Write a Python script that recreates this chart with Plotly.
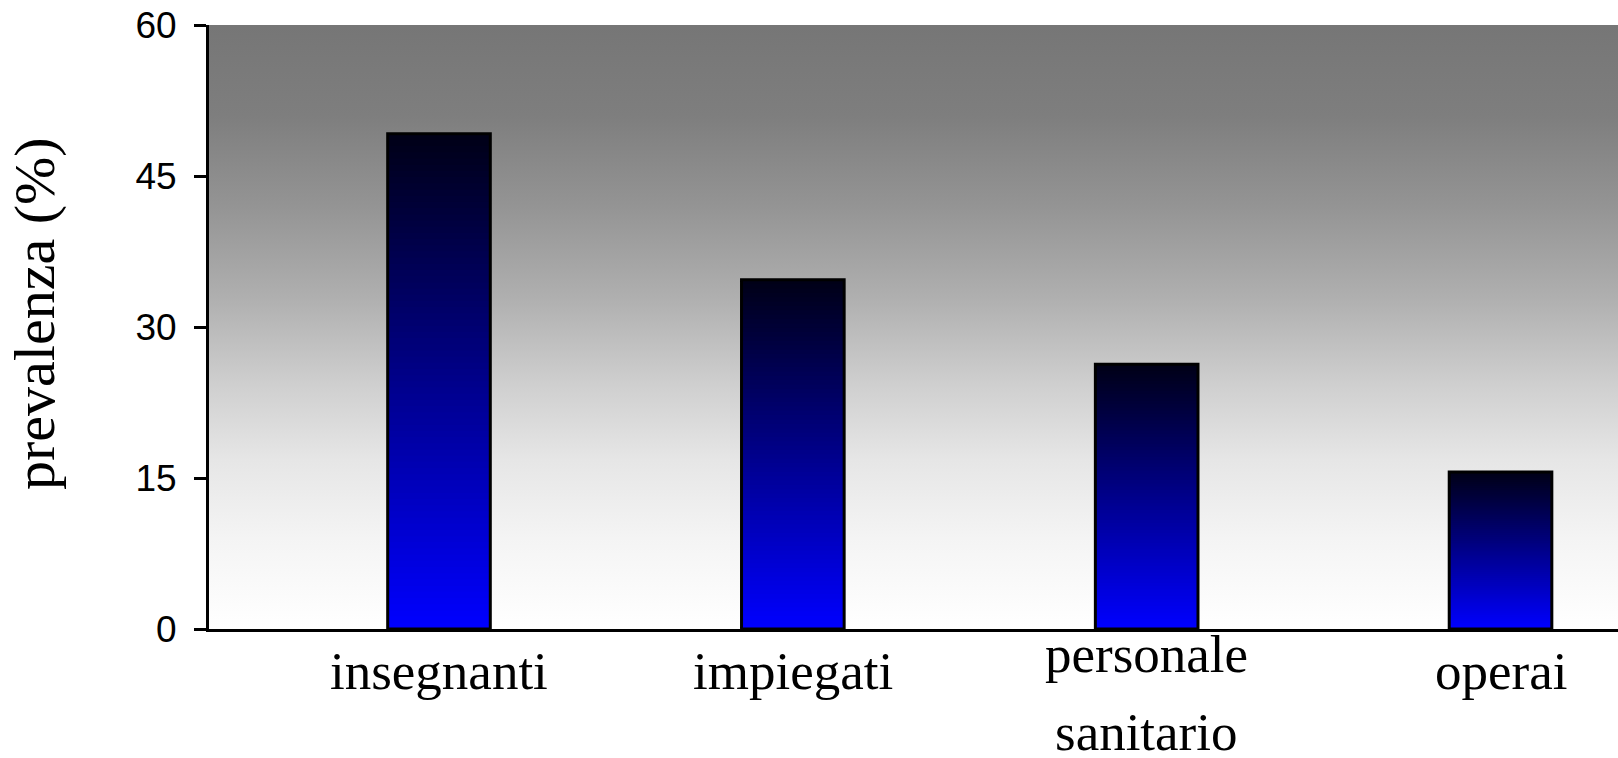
import base64
import plotly.graph_objects as go

# ---- data ----
categories = ["insegnanti", "impiegati", "personale sanitario", "operai"]
prevalence = [49.2, 34.7, 26.3, 15.6]
y_ticks = [0, 15, 30, 45, 60]
y_title = "prevalenza (%)"

# ---- style ----
W, H = 1618, 758
ML, MR, MT, MB = 209, 0, 25, 129
BAR_W = 0.29
N_SEG = 80
SERIF = "Liberation Serif, Times New Roman, serif"
SANS = "Liberation Sans, Arial, sans-serif"

fig = go.Figure()

# vertical gradient bars (blue at bottom -> near black at top):
# overlapping bars, each one a shorter fraction of the bar's own value,
# drawn from tallest (darkest top) to shortest, so no seams appear.
for k in range(N_SEG):
    top = (N_SEG - k) / N_SEG
    frac = (N_SEG - k - 0.5) / N_SEG
    b = int(round(255 - (255 - 22) * frac))
    fig.add_trace(go.Bar(
        x=categories,
        y=[v * top for v in prevalence],
        width=BAR_W,
        marker=dict(color=f"rgb(0,0,{b})", line=dict(width=0)),
        hoverinfo="skip",
        showlegend=False,
    ))

# outline of each bar
fig.add_trace(go.Bar(
    x=categories,
    y=prevalence,
    width=BAR_W,
    marker=dict(color="rgba(0,0,0,0)", line=dict(color="black", width=3)),
    showlegend=False,
))

# background gradient image for the plot area
svg = (
    '<svg xmlns="http://www.w3.org/2000/svg" width="100" height="100" '
    'viewBox="0 0 100 100" preserveAspectRatio="none">'
    '<defs><linearGradient id="g" x1="0" y1="0" x2="0" y2="1">'
    '<stop offset="0" stop-color="#767676"/>'
    '<stop offset="0.15" stop-color="#7e7e7e"/>'
    '<stop offset="0.30" stop-color="#949494"/>'
    '<stop offset="0.45" stop-color="#afafaf"/>'
    '<stop offset="0.60" stop-color="#d0d0d0"/>'
    '<stop offset="0.72" stop-color="#e6e6e6"/>'
    '<stop offset="0.85" stop-color="#f4f4f4"/>'
    '<stop offset="1" stop-color="#ffffff"/>'
    '</linearGradient></defs>'
    '<rect x="0" y="0" width="100" height="100" fill="url(#g)"/></svg>'
)
src = "data:image/svg+xml;base64," + base64.b64encode(svg.encode()).decode()

# category labels as annotations (allowing wide line spacing)
annotations = []
for i, cat in enumerate(categories):
    lines = cat.split(" ")
    if len(lines) == 1:
        shifts = [-42]
    else:
        shifts = [-25, -103]
    for line, sh in zip(lines, shifts):
        annotations.append(dict(
            x=cat, y=0, xref="x", yref="paper", text=line,
            showarrow=False, xanchor="center", yanchor="middle", yshift=sh,
            font=dict(family=SERIF, size=53, color="black"),
        ))

plot_w = W - ML - MR
plot_h = H - MT - MB
annotations.append(dict(
    x=(35 - ML) / plot_w, y=(H - MB - 314) / plot_h,
    xref="paper", yref="paper", text=y_title, textangle=-90,
    showarrow=False, xanchor="center", yanchor="middle",
    font=dict(family=SERIF, size=58, color="black"),
))

fig.update_layout(
    width=W, height=H,
    margin=dict(l=ML, r=MR, t=MT, b=MB, pad=0),
    barmode="overlay",
    paper_bgcolor="white",
    plot_bgcolor="rgba(0,0,0,0)",
    images=[dict(source=src, xref="paper", yref="paper", x=0, y=1,
                 sizex=1, sizey=1, sizing="stretch", layer="below",
                 xanchor="left", yanchor="top")],
    annotations=annotations,
    xaxis=dict(
        type="category", range=[-0.65, 3.332],
        showticklabels=False, ticks="", showgrid=False, zeroline=False,
        showline=True, linecolor="black", linewidth=3,
    ),
    yaxis=dict(
        range=[0, 60], tickvals=y_ticks, ticktext=[str(t) for t in y_ticks],
        ticks="outside", ticklen=12, tickwidth=3, tickcolor="black",
        ticklabelstandoff=10,
        tickfont=dict(family=SANS, size=37, color="black"),
        showgrid=False, zeroline=False,
        showline=True, linecolor="black", linewidth=3,
    ),
    showlegend=False,
)

fig.write_html(
    "out.html",
    config={"displayModeBar": False},
    post_script="document.body.style.margin='0';document.body.style.overflow='hidden';",
)
